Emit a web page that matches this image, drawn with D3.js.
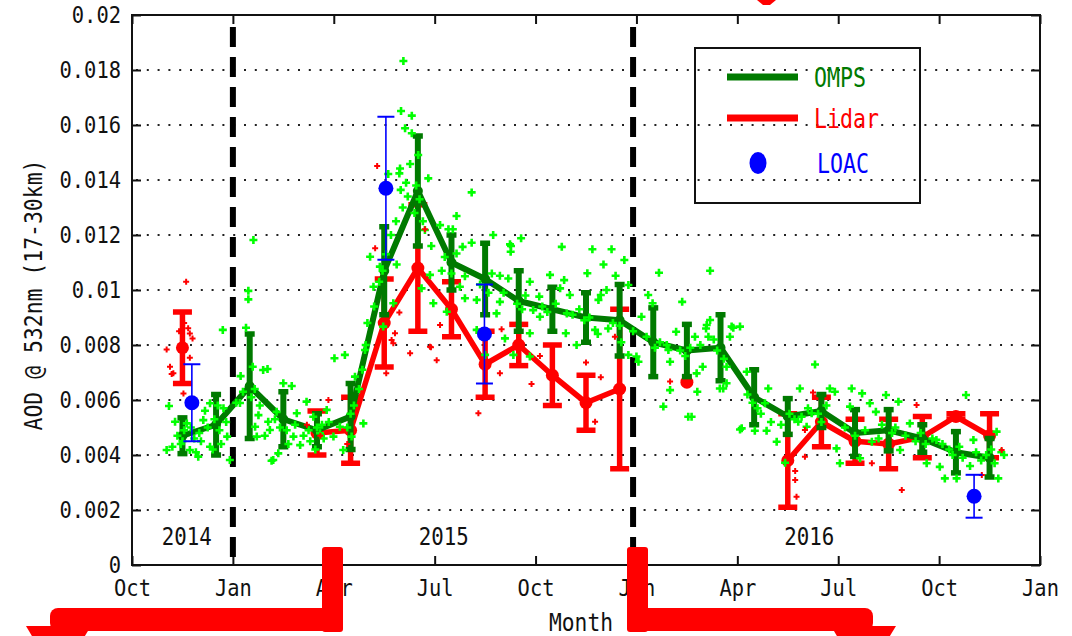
<!DOCTYPE html>
<html>
<head>
<meta charset="utf-8">
<script src="https://cdn.jsdelivr.net/npm/d3@7"></script>
<style>
  html, body { margin: 0; padding: 0; background: #fff; }
  svg { display: block; }
  text { font-family: "DejaVu Sans Mono", "Liberation Mono", monospace; fill: #111; }
</style>
</head>
<body>
<script>
// Months are counted from 1 Oct 2014 (0) to 1 Jan 2017 (27); monthly means sit mid-month.
const monthCentres = d3.range(1.5, 26, 1); // Nov 2014 .. Nov 2016

// OMPS monthly mean AOD and half-range of its error bar
const ompsMean = [0.0047, 0.0051, 0.0065, 0.0053, 0.0049, 0.0054, 0.0107, 0.0136, 0.0110, 0.0104,
                  0.0096, 0.0093, 0.0090, 0.0089, 0.0081, 0.0078, 0.0079, 0.0061, 0.0054, 0.0056,
                  0.0048, 0.0049, 0.0046, 0.0041, 0.0039];
const ompsErr  = [0.00065, 0.0011, 0.0019, 0.0010, 0.0006, 0.0012, 0.0016, 0.0020, 0.0010, 0.0013,
                  0.0011, 0.0008, 0.0009, 0.0013, 0.00125, 0.00095, 0.0012, 0.0010, 0.00065, 0.0006,
                  0.00085, 0.00075, 0.0005, 0.00075, 0.0007];

// Lidar monthly mean AOD (null = no measurements that month)
const lidarMean = [0.0079, null, null, null, 0.0048, 0.0049, 0.0088, 0.0108, 0.0093, 0.0073,
                   0.0080, 0.0069, 0.0059, 0.0064, null, 0.00665, null, null, 0.0038, 0.0052,
                   0.0045, 0.0044, 0.00465, 0.0054, 0.0047];
const lidarErr  = [0.0013, null, null, null, 0.0008, 0.0012, 0.0016, 0.0023, 0.0010, 0.0012,
                   0.00075, 0.0011, 0.0010, 0.0029, null, 0, null, null, 0.0017, 0.0009,
                   0.0008, 0.0009, 0.00075, 0.0001, 0.0008];

// LOAC balloon flights: month position, AOD, error
const loacMonth = [1.78, 7.55, 10.48, 25.04];
const loacAod   = [0.0059, 0.0137, 0.0084, 0.0025];
const loacErr   = [0.0014, 0.0026, 0.0018, 0.00078];

// Individual OMPS retrievals [month, AOD]
const ompsDaily = [
  [1.03,0.00418],[1.10,0.00578],[1.28,0.00521],[1.63,0.00515],[1.72,0.00418],[1.97,0.00394],[2.12,0.00527],
  [2.17,0.00561],[2.32,0.00588],[2.32,0.0043],[2.72,0.0057],[2.83,0.00467],[2.91,0.00382],[2.70,0.00855],
  [1.35,0.0047],[1.45,0.0044],[1.55,0.0049],[1.85,0.0046],[2.0,0.0048],[2.25,0.0050],[2.45,0.0053],
  [2.6,0.0049],[2.55,0.0058],[1.2,0.0043],[1.9,0.0041],[2.4,0.0042],[2.8,0.0052],
  [1.5,0.0045],[1.75,0.0050],[2.05,0.0045],[2.65,0.0044],
  [3.46,0.00997],[3.46,0.00966],[3.61,0.01182],[3.39,0.00863],[3.59,0.00721],[4.03,0.00713],[3.9,0.00709],
  [3.23,0.00687],[4.50,0.00661],[4.75,0.00651],[3.21,0.00589],[5.19,0.00594],[3.76,0.00545],[3.66,0.00503],
  [4.05,0.00521],[4.30,0.00557],[4.90,0.00552],[5.39,0.00539],[5.79,0.00564],[4.10,0.00491],[3.71,0.00467],
  [4.80,0.00467],[5.00,0.00436],[4.35,0.00406],[4.15,0.00379],[4.2,0.00382],[6.02,0.00752],[6.33,0.00764],
  [6.18,0.00503],[5.99,0.00467],[5.59,0.00479],
  [3.1,0.0059],[3.3,0.0063],[3.55,0.0061],[3.8,0.0058],[4.4,0.0050],[4.6,0.0049],[5.1,0.0047],[5.3,0.0045],
  [5.5,0.0050],[5.7,0.0046],[5.85,0.0052],[4.65,0.0044],[3.95,0.0047],[5.45,0.0042],
  [3.65,0.0064],[4.25,0.0053],[4.85,0.0051],[5.25,0.0049],[5.65,0.0051],
  [6.28,0.00418],[6.53,0.00467],[6.88,0.00515],[6.63,0.00685],[6.93,0.00782],[7.47,0.00867],[7.77,0.00952],
  [7.18,0.01012],[7.08,0.01121],[7.37,0.01085],[7.87,0.01093],[7.62,0.01422],[7.95,0.01424],[7.97,0.01442],
  [7.99,0.01364],[8.0,0.01651],[8.07,0.01833],[8.12,0.01588],[8.32,0.01634],[8.32,0.0157],[8.27,0.01458],
  [8.51,0.01491],[8.81,0.01406],[8.71,0.01218],[8.86,0.01055],[8.61,0.01006],[8.96,0.00952],
  [6.4,0.0050],[6.6,0.0058],[6.75,0.0064],[6.85,0.0071],[7.0,0.0088],[7.2,0.0094],[7.35,0.0103],[7.55,0.0113],
  [7.7,0.0120],[7.85,0.0125],[8.05,0.0130],[8.2,0.0134],[8.4,0.0128],[8.55,0.0133],[8.65,0.0125],[8.9,0.0116],
  [6.5,0.0055],[6.95,0.0080],[7.45,0.0107],[8.15,0.0139],[8.45,0.0138],
  [9.16,0.01236],[9.41,0.01221],[9.54,0.01221],[9.65,0.01269],[10.1,0.01355],[9.21,0.0107],[9.36,0.00921],
  [9.75,0.01012],[9.90,0.0097],[9.65,0.01133],[9.83,0.01157],[10.1,0.01172],[10.25,0.00964],[10.25,0.00855],
  [10.74,0.012],[10.94,0.01052],[10.94,0.00957],[10.84,0.00915],[11.19,0.01042],[11.24,0.01166],
  [11.27,0.0116],[11.26,0.01139],[11.57,0.01188],[11.83,0.0103],[11.93,0.00927],[11.09,0.00824],[11.34,0.00764],
  [11.83,0.00843],[11.83,0.00758],[10.5,0.00764],
  [9.3,0.0112],[9.5,0.0106],[9.9,0.0105],[10.35,0.0102],[10.6,0.0099],[10.7,0.0106],[11.05,0.0099],
  [11.45,0.0095],[11.6,0.0093],[11.7,0.0098],
  [12.11,0.00976],[12.13,0.00903],[12.43,0.01055],[12.78,0.01157],[12.73,0.01006],[12.85,0.01036],
  [12.9,0.00843],[12.93,0.00915],[13.02,0.00982],[13.22,0.008],[13.54,0.01061],[13.69,0.01148],[13.77,0.00855],
  [13.87,0.00964],[13.94,0.00982],[14.02,0.01093],[14.11,0.01],[14.16,0.0086],[14.26,0.01148],[14.38,0.01052],
  [14.64,0.01109],[14.76,0.01018],[14.76,0.00764],[15.0,0.00758],
  [12.2,0.0094],[12.35,0.0092],[12.6,0.0095],[13.1,0.0091],[13.3,0.0093],[13.45,0.0089],[13.6,0.0090],
  [14.3,0.0088],[14.5,0.0087],[14.9,0.0085],[14.55,0.0081],[13.85,0.0084],
  [15.15,0.00903],[15.35,0.00982],[15.48,0.00952],[15.67,0.01063],[16.36,0.00957],[17.19,0.0107],
  [15.06,0.00739],[15.8,0.00576],[15.95,0.00782],[16.0,0.00739],[16.0,0.00636],[16.18,0.00848],[16.54,0.00539],
  [16.64,0.00539],[16.74,0.0083],[16.79,0.00697],[16.81,0.0063],[16.97,0.00721],[17.07,0.0086],[17.09,0.00873],
  [17.14,0.0083],[17.19,0.00891],[17.48,0.00642],[17.58,0.00642],[17.68,0.00721],[17.68,0.00661],[17.78,0.0083],
  [17.83,0.00867],[17.88,0.00863],[18.08,0.00867],
  [15.3,0.0083],[15.55,0.0079],[15.7,0.0081],[15.9,0.0080],[16.3,0.0078],[16.45,0.0076],[16.6,0.0079],
  [16.9,0.0080],[17.3,0.0082],[17.4,0.0078],[17.6,0.0075],
  [18.08,0.00493],[18.13,0.00497],[18.28,0.00703],[18.52,0.00488],[18.82,0.00588],[18.87,0.00488],
  [18.92,0.00642],[19.17,0.00448],[19.42,0.00372],[19.81,0.00521],[19.86,0.00642],[19.91,0.00539],
  [20.06,0.00503],[20.21,0.00552],[20.31,0.00729],[20.75,0.00642],[20.9,0.0063],[20.95,0.00424],[21.05,0.0037],
  [18.3,0.0062],[18.45,0.0059],[18.6,0.0057],[18.7,0.0055],[19.0,0.0052],[19.3,0.0051],[19.55,0.0055],
  [19.7,0.0053],[20.1,0.0057],[20.4,0.0055],[20.5,0.0052],[20.65,0.0058],
  [21.35,0.00576],[21.4,0.00642],[21.65,0.00388],[21.71,0.00624],[21.94,0.00588],[22.0,0.00448],[22.12,0.00557],
  [22.42,0.00618],[22.79,0.00594],[22.84,0.00418],[23.13,0.00515],[23.63,0.0037],[23.92,0.00455],
  [21.2,0.0050],[21.5,0.0047],[21.8,0.0049],[22.2,0.0046],[22.3,0.0051],[22.6,0.0048],[22.7,0.0050],
  [23.0,0.0047],[23.3,0.0045],[23.45,0.0048],[23.6,0.0044],[23.8,0.0046],
  [24.02,0.00357],[24.17,0.00315],[24.52,0.00315],[24.8,0.00618],[24.92,0.0036],[25.02,0.00455],
  [25.71,0.00485],[25.76,0.00315],[25.93,0.004],
  [24.1,0.0044],[24.3,0.0042],[24.4,0.0040],[24.6,0.0043],[24.7,0.0039],[25.1,0.0041],[25.25,0.0038],
  [25.4,0.0040],[25.55,0.0042],[25.65,0.0037],[25.85,0.0041]
];

// Individual lidar profiles [month, AOD]
const lidarDaily = [
  [1.61,0.0103],[1.03,0.00784],[1.13,0.00721],[1.18,0.00695],[1.23,0.00697],[1.72,0.00754],[1.80,0.00824],
  [1.67,0.00861],[1.72,0.00842],[1.53,0.00624],[1.4,0.0085],[1.55,0.0088],
  [5.84,0.006],[5.6,0.0047],[5.2,0.0051],[6.4,0.0044],
  [7.29,0.01451],[7.23,0.01152],[8.71,0.01221],[7.95,0.00918],[7.82,0.00843],[7.77,0.00806],[7.72,0.00818],
  [8.27,0.0077],[9.16,0.00873],[8.86,0.00794],[9.06,0.00745],[8.89,0.00792],[7.56,0.00697],[10.3,0.00552],
  [10.99,0.00857],[10.94,0.00697],[11.88,0.00658],[12.13,0.0076],[13.5,0.00736],[13.94,0.00683],[13.77,0.00521],
  [14.36,0.0083],[16.0,0.00667],
  [19.72,0.00342],[19.72,0.00309],[19.76,0.00248],[20.01,0.00394],[20.01,0.00491],[20.25,0.00627],[22.0,0.0037],
  [22.89,0.00273],[23.33,0.00582],[25.27,0.00327],[25.86,0.00418]
];

const quarterTicks = d3.range(0, 28, 3);
const xTickLabels = ["Oct", "Jan", "Apr", "Jul", "Oct", "Jan", "Apr", "Jul", "Oct", "Jan"];
const yTicks = d3.range(0, 11).map(i => i * 0.002);
const yTickLabels = ["0", "0.002", "0.004", "0.006", "0.008", "0.01", "0.012", "0.014", "0.016", "0.018", "0.02"];
const yearBreaks = [3.0, 14.9];
const yearLabels = [{m: 1.63, text: "2014"}, {m: 9.27, text: "2015"}, {m: 20.14, text: "2016"}];

const W = 1072, H = 636;
const svg = d3.select("body").append("svg").attr("width", W).attr("height", H);
svg.append("rect").attr("width", W).attr("height", H).attr("fill", "#fff");

const x = d3.scaleLinear().domain([0, 27]).range([132, 1040]);
const y = d3.scaleLinear().domain([0, 0.02]).range([565, 15]);

const DARK = "#007a00", LIGHT = "#00ff00", RED = "#ff0000", BLUE = "#0000ff";

// squeeze the monospace glyphs to a narrow advance
function fit(sel, charW) {
  sel.each(function () {
    const t = d3.select(this), s = t.text();
    t.attr("textLength", s.length * charW).attr("lengthAdjust", "spacingAndGlyphs");
  });
}

// dotted horizontal grid
svg.append("g").selectAll("line").data(yTicks.slice(1, -1)).join("line")
  .attr("x1", x(0)).attr("x2", x(27))
  .attr("y1", d => y(d)).attr("y2", d => y(d))
  .attr("stroke", "#222").attr("stroke-width", 2)
  .attr("stroke-dasharray", "2,8.8").attr("stroke-dashoffset", -4);

// axes with inward ticks
const gB = svg.append("g").attr("transform", `translate(0,${y(0)})`)
  .call(d3.axisBottom(x).tickValues(quarterTicks).tickFormat((d, i) => xTickLabels[i]).tickSize(-9).tickPadding(15));
const gT = svg.append("g").attr("transform", `translate(0,${y(0.02)})`)
  .call(d3.axisTop(x).tickValues(quarterTicks).tickFormat("").tickSize(-9));
const gL = svg.append("g").attr("transform", `translate(${x(0)},0)`)
  .call(d3.axisLeft(y).tickValues(yTicks).tickFormat((d, i) => yTickLabels[i]).tickSize(-9).tickPadding(11));
const gR = svg.append("g").attr("transform", `translate(${x(27)},0)`)
  .call(d3.axisRight(y).tickValues(yTicks).tickFormat("").tickSize(-9));
[gB, gT, gL, gR].forEach(g => {
  g.select(".domain").remove();
  g.selectAll(".tick line").attr("stroke", "#111").attr("stroke-width", 2);
  g.selectAll("text").attr("font-size", 23).attr("fill", "#111").style("font-family", '"DejaVu Sans Mono", monospace');
});
fit(gB.selectAll("text"), 12.3);
fit(gL.selectAll("text"), 12.3);

// frame
svg.append("rect").attr("x", x(0)).attr("y", y(0.02))
  .attr("width", x(27) - x(0)).attr("height", y(0) - y(0.02))
  .attr("fill", "none").attr("stroke", "#111").attr("stroke-width", 2);

// year boundaries
svg.append("g").selectAll("line").data(yearBreaks).join("line")
  .attr("x1", d => x(d)).attr("x2", d => x(d))
  .attr("y1", 27).attr("y2", 567)
  .attr("stroke", "#000").attr("stroke-width", 6).attr("stroke-dasharray", "20,10");

// year labels
svg.append("g").selectAll("text").data(yearLabels).join("text")
  .attr("x", d => x(d.m)).attr("y", 545).attr("text-anchor", "middle")
  .attr("font-size", 24).text(d => d.text)
  .call(s => fit(s, 12.5));

// error bars helper
function errorBars(g, rows, color, lw, capW, capT) {
  const gg = g.append("g");
  gg.selectAll("line.v").data(rows).join("line").attr("class", "v")
    .attr("x1", d => x(d.m)).attr("x2", d => x(d.m))
    .attr("y1", d => y(d.v - d.e)).attr("y2", d => y(d.v + d.e))
    .attr("stroke", color).attr("stroke-width", lw);
  ["lo", "hi"].forEach(k => {
    gg.selectAll("line." + k).data(rows).join("line").attr("class", k)
      .attr("x1", d => x(d.m) - capW / 2).attr("x2", d => x(d.m) + capW / 2)
      .attr("y1", d => y(k === "lo" ? d.v - d.e : d.v + d.e))
      .attr("y2", d => y(k === "lo" ? d.v - d.e : d.v + d.e))
      .attr("stroke", color).attr("stroke-width", capT);
  });
}

const lidarRows = monthCentres.map((m, i) => ({m, v: lidarMean[i], e: lidarErr[i]}));
const lidarValid = lidarRows.filter(d => d.v != null);
const ompsRows = monthCentres.map((m, i) => ({m, v: ompsMean[i], e: ompsErr[i]}));

const line = d3.line().defined(d => d.v != null).x(d => x(d.m)).y(d => y(d.v));

// Lidar monthly means
const gLid = svg.append("g");
gLid.append("path").datum(lidarRows).attr("d", line)
  .attr("fill", "none").attr("stroke", RED).attr("stroke-width", 5.5).attr("stroke-linejoin", "round");
errorBars(gLid, lidarValid.filter(d => d.e > 0), RED, 5.5, 19, 5.5);
gLid.selectAll("circle").data(lidarValid).join("circle")
  .attr("cx", d => x(d.m)).attr("cy", d => y(d.v)).attr("r", 6.5).attr("fill", RED);

// OMPS monthly means
const gOm = svg.append("g");
gOm.append("path").datum(ompsRows).attr("d", line)
  .attr("fill", "none").attr("stroke", DARK).attr("stroke-width", 6).attr("stroke-linejoin", "round");
errorBars(gOm, ompsRows, DARK, 6, 10, 5.5);
gOm.selectAll("circle").data(ompsRows).join("circle")
  .attr("cx", d => x(d.m)).attr("cy", d => y(d.v)).attr("r", 5).attr("fill", DARK);

// individual retrievals as small crosses
function crosses(rows, color, h, sw) {
  const p = d3.path();
  rows.forEach(([m, v]) => {
    const cx = x(m), cy = y(v);
    p.moveTo(cx - h, cy); p.lineTo(cx + h, cy);
    p.moveTo(cx, cy - h); p.lineTo(cx, cy + h);
  });
  svg.append("path").attr("d", p.toString()).attr("stroke", color).attr("stroke-width", sw).attr("fill", "none");
}
crosses(ompsDaily, LIGHT, 4, 2.6);
crosses(lidarDaily, RED, 3, 2);

// LOAC
const loacRows = loacMonth.map((m, i) => ({m, v: loacAod[i], e: loacErr[i]}));
const gLo = svg.append("g");
errorBars(gLo, loacRows, BLUE, 1.6, 17, 2);
gLo.selectAll("circle").data(loacRows).join("circle")
  .attr("cx", d => x(d.m)).attr("cy", d => y(d.v)).attr("r", 7.5).attr("fill", BLUE);

// axis titles
svg.append("text").attr("transform", "translate(42,295) rotate(-90)")
  .attr("text-anchor", "middle").attr("font-size", 25).text("AOD @ 532nm (17-30km)")
  .call(s => fit(s, 12.9));
svg.append("text").attr("x", 581).attr("y", 631).attr("text-anchor", "middle")
  .attr("font-size", 24).text("Month").call(s => fit(s, 12.8));

// legend
const lg = svg.append("g");
lg.append("rect").attr("x", 695).attr("y", 48).attr("width", 225).attr("height", 155)
  .attr("fill", "none").attr("stroke", "#111").attr("stroke-width", 2);
const legendItems = [
  {label: "OMPS", color: DARK, kind: "line", cy: 77},
  {label: "Lidar", color: RED, kind: "line", cy: 118},
  {label: "LOAC", color: BLUE, kind: "dot", cy: 163}
];
legendItems.forEach(it => {
  if (it.kind === "line") {
    lg.append("line").attr("x1", 727).attr("x2", 798).attr("y1", it.cy).attr("y2", it.cy)
      .attr("stroke", it.color).attr("stroke-width", 7);
  } else {
    lg.append("ellipse").attr("cx", 758).attr("cy", it.cy).attr("rx", 8.5).attr("ry", 11).attr("fill", it.color);
  }
  lg.append("text").attr("x", it.kind === "dot" ? 817 : 814).attr("y", it.cy + 10)
    .attr("font-size", 27).style("fill", it.color).text(it.label).call(s => fit(s, 13));
});

// red callout brackets
const ann = svg.append("g").attr("fill", RED);
ann.append("rect").attr("x", 322).attr("y", 547).attr("width", 21).attr("height", 85).attr("rx", 3);
ann.append("rect").attr("x", 50).attr("y", 608).attr("width", 293).attr("height", 23).attr("rx", 8);
ann.append("path").attr("d", "M26,626 L91,626 L58,680 Z");
ann.append("rect").attr("x", 627).attr("y", 547).attr("width", 21).attr("height", 85).attr("rx", 3);
ann.append("rect").attr("x", 627).attr("y", 608).attr("width", 246).attr("height", 23).attr("rx", 8);
ann.append("path").attr("d", "M831,626 L896,626 L863,680 Z");
ann.append("path").attr("d", "M757,0 L776,0 L770,5 L763,5 Z");
</script>
</body>
</html>
